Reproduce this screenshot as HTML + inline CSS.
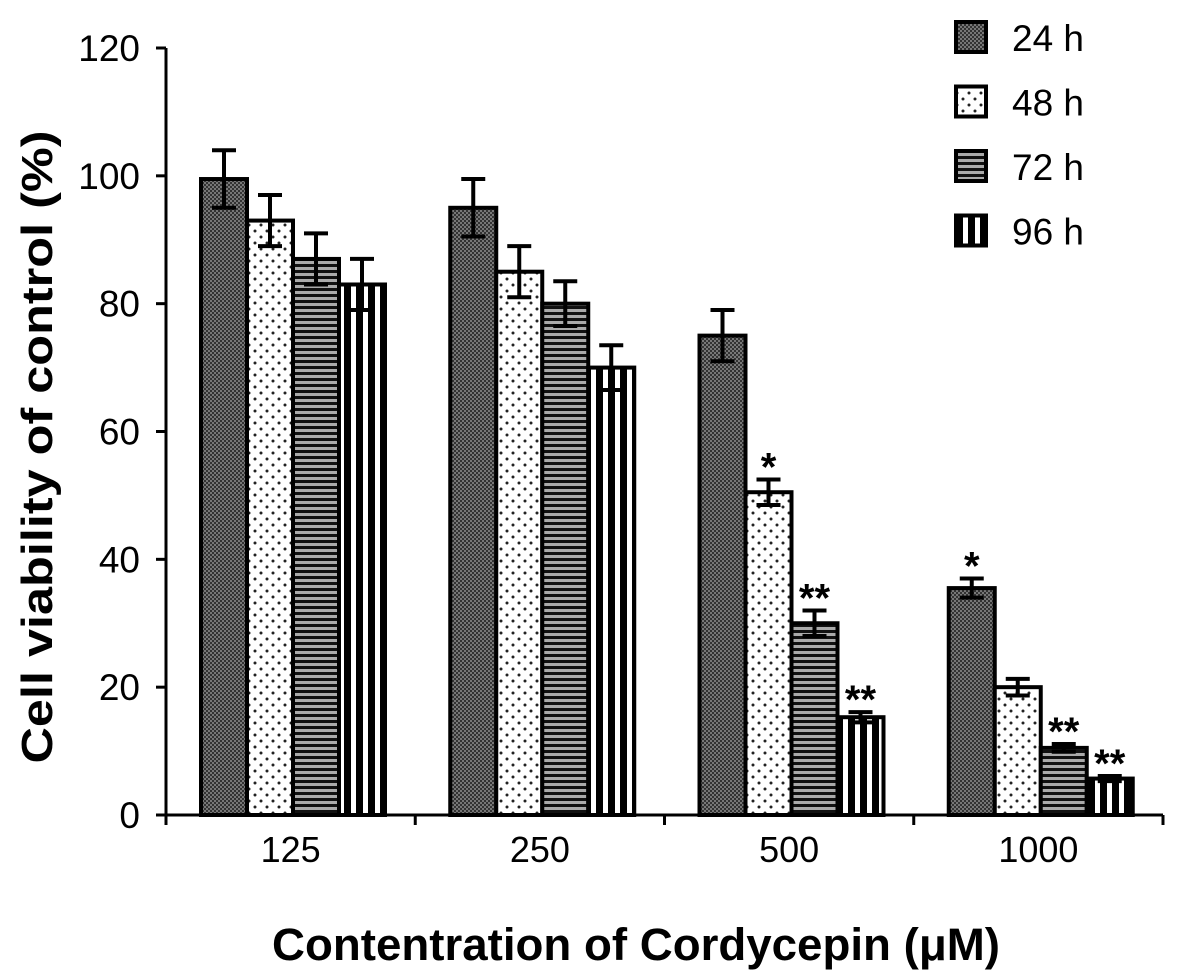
<!DOCTYPE html>
<html><head><meta charset="utf-8"><style>
body{margin:0;background:#fff;}
svg{display:block;font-family:"Liberation Sans",Arial,sans-serif;}
</style></head><body>
<svg id="chart" width="1181" height="979" viewBox="0 0 1181 979">
<defs>
<pattern id="p24" width="4" height="4" patternUnits="userSpaceOnUse"><rect width="4" height="4" fill="#777"/><rect width="2" height="2" fill="#333"/><rect x="2" y="2" width="2" height="2" fill="#333"/></pattern>
<pattern id="p48" width="12" height="12" patternUnits="userSpaceOnUse"><rect width="12" height="12" fill="#fff"/><circle cx="3" cy="3" r="1.5" fill="#222"/><circle cx="9" cy="9" r="1.5" fill="#222"/></pattern>
<pattern id="p72" width="6" height="6" patternUnits="userSpaceOnUse"><rect width="6" height="6" fill="#aaa"/><rect width="6" height="3" fill="#111"/></pattern>
<pattern id="p96" width="12" height="12" patternUnits="userSpaceOnUse"><rect width="12" height="12" fill="#000"/><rect x="3" width="5" height="12" fill="#fff"/></pattern>
</defs>
<g id="plot"></g>
</svg>
<script>
const categories=["125","250","500","1000"];
const seriesNames=["24 h","48 h","72 h","96 h"];
const v24=[99.5,95,75,35.5];
const v48=[93,85,50.5,20];
const v72=[87,80,30,10.5];
const v96=[83,70,15.3,5.7];
const e24=[4.5,4.5,4,1.5];
const e48=[4,4,2,1.3];
const e72=[4,3.5,2,0.6];
const e96=[4,3.5,0.8,0.4];
const sig24=["","","","*"];
const sig48=["","","*",""];
const sig72=["","","**","**"];
const sig96=["","","**","**"];
const yTicks=[0,20,40,60,80,100,120];

const NS="http://www.w3.org/2000/svg";
const g=document.getElementById('plot');
const x0=166,y0=815,yTop=48,gw=249.25,bw=46,off=35;
const y=v=>y0-(v/120)*(y0-yTop);
const gx=i=>x0+i*gw;
function mk(t,a,txt){const e=document.createElementNS(NS,t);for(const k in a)e.setAttribute(k,a[k]);if(txt!==undefined)e.textContent=txt;g.appendChild(e);return e;}
const vals=[v24,v48,v72,v96],errs=[e24,e48,e72,e96],sigs=[sig24,sig48,sig72,sig96],pats=["p24","p48","p72","p96"];
categories.forEach((c,i)=>{
  vals.forEach((vs,s)=>{
    const bx=gx(i)+off+s*bw, by=y(vs[i]);
    const r=mk('rect',{x:bx,y:by,width:bw,height:y0-by,fill:'url(#'+pats[s]+')',stroke:'#000','stroke-width':4});
    
    
    const cx=bx+bw/2, ey1=y(vs[i]+errs[s][i]), ey2=y(vs[i]-errs[s][i]);
    const eb=mk('path',{d:`M${cx} ${ey1}V${ey2}M${cx-12} ${ey1}H${cx+12}M${cx-12} ${ey2}H${cx+12}`,stroke:'#000','stroke-width':4,fill:'none'});
    
    
    if(sigs[s][i]){
      const t=mk('text',{x:cx,y:ey1+1,'text-anchor':'middle','font-size':40,'font-weight':'bold'},sigs[s][i]);
      
      
    }
  });
  const l=mk('text',{x:gx(i)+gw/2,y:862,'text-anchor':'middle','font-size':36},c);
  
  
});
const ax=mk('path',{d:`M${x0} ${yTop}V${y0}H${x0+4*gw}`,stroke:'#000','stroke-width':3,fill:'none'});


yTicks.forEach(t=>{
  const tk=mk('path',{d:`M${x0-10} ${y(t)}H${x0}`,stroke:'#000','stroke-width':3});
  
  
  const tl=mk('text',{x:x0-26,y:y(t)+13,'text-anchor':'end','font-size':37},String(t));
  
  
});
for(let i=0;i<=4;i++){
  const tk=mk('path',{d:`M${gx(i)} ${y0}V${y0+10}`,stroke:'#000','stroke-width':3});
  
  
}
const yt=mk('text',{x:0,y:0,transform:'translate(52,447) rotate(-90)','text-anchor':'middle','font-size':44,'font-weight':'bold',textLength:633,lengthAdjust:'spacingAndGlyphs'},'Cell viability of control (%)');


const xt=mk('text',{x:636,y:960,'text-anchor':'middle','font-size':45,'font-weight':'bold',textLength:728,lengthAdjust:'spacingAndGlyphs'},'Contentration of Cordycepin (μM)');


seriesNames.forEach((n,s)=>{
  const ly=22+s*64.5;
  const b=mk('rect',{x:956,y:ly,width:30,height:30,fill:'url(#'+pats[s]+')',stroke:'#000','stroke-width':4});
  
  
  const t=mk('text',{x:1012,y:ly+29,'font-size':37},n);
  
  
});
</script>
</body></html>
